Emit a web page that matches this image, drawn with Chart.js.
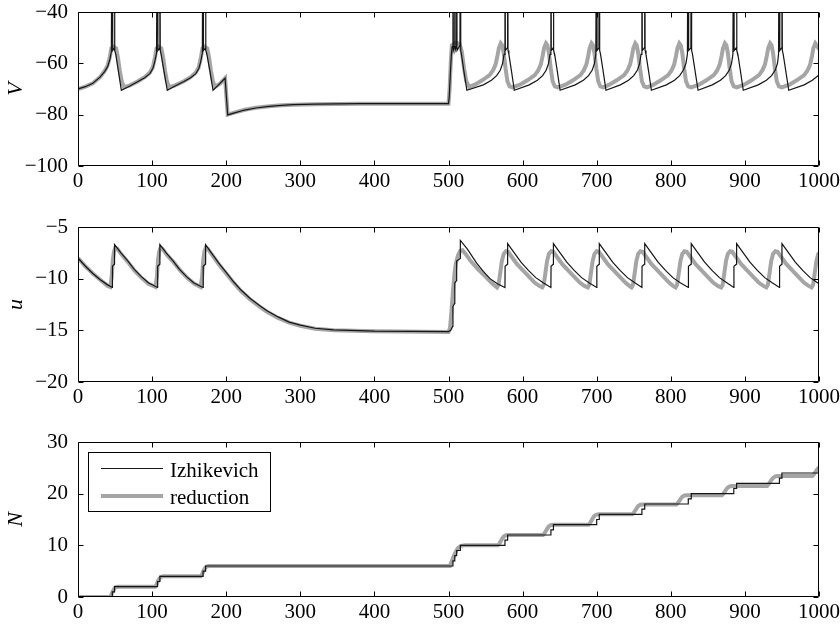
<!DOCTYPE html>
<html lang="en">
<head>
<meta charset="UTF-8">
<title>Izhikevich vs reduction</title>
<script src="https://cdn.jsdelivr.net/npm/chart.js"></script>
<style>
  body { margin: 0; background: #fff; width: 840px; height: 627px; overflow: hidden; position: relative; }
  .panel { position: absolute; left: 0; width: 840px; }
</style>
</head>
<body>
<div class="panel" style="top:0;height:200px"><canvas id="chartV"></canvas></div>
<div class="panel" style="top:210px;height:205px"><canvas id="chartU"></canvas></div>
<div class="panel" style="top:425px;height:202px"><canvas id="chartN"></canvas></div>
<script>
// values: [time, value]
const izhV = [
  [0,-70],[10,-69.1],[20,-67.8],[30,-65.3],[36,-63.2],[40,-61.3],[43,-58.5],[45,-55.5],[46.3,30],[46.8,-55],[48.8,-54.2],[49.3,30],[49.8,-55],[51,-56.5],[54.5,-63],[58.5,-70.5],
  [70,-68.8],[81,-67.1],[90,-65.6],[97,-64],[101,-62],[103.5,-59.5],[106,-56],[107.3,30],[107.8,-55],[110,-54.2],[110.5,30],[111,-55],[112.2,-56.5],[116,-63],[120.5,-70.5],
  [131,-68.8],[143,-67.1],[152,-65.6],[159,-64],[163,-62],[165.5,-59.5],[167.8,-56],[168.8,30],[169.3,-55],[171.7,-54.2],[172.2,30],[172.7,-55],[174,-56.5],[178,-63],[182.2,-70.5],
  [190,-68.3],[198.5,-65.8],[202,-80.1],[210,-79.4],[225,-78.2],[240,-77.4],[255,-76.9],[270,-76.5],[290,-76.1],[320,-75.9],[380,-75.7],[500,-75.7],
  [501,-73],[502.5,-64],[504,-56],[505,-53.5],[506,30],[506.5,-55],[508,-53.5],[508.5,30],[509,-55],[510.5,-53.5],[511,30],[511.5,-55],[515.5,-53],[516,30],[516.5,-55],[517.5,-56.5],[521,-63.5],[524.8,-70.5],
  [547,-68.4],[558,-66.6],[565,-64.8],[570,-62.6],[573,-60],[575,-56.5],[576.2,30],[576.7,-55],[579.3,-54],[579.8,30],[580.3,-55],[581.5,-56.5],[585,-63],[588.8,-70.5],
  [609,-68.4],[620,-66.6],[627,-64.8],[632,-62.6],[635,-60],[637,-56.5],[638.2,30],[638.7,-55],[641.1,-54],[641.6,30],[642.1,-55],[643.3,-56.5],[646.8,-63],[650.6,-70.5],
  [671,-68.4],[682,-66.6],[689,-64.8],[694,-62.6],[697,-60],[698.8,-56.5],[700,30],[700.5,-55],[703,-54],[703.5,30],[704,-55],[705.2,-56.5],[708.7,-63],[712.5,-70.5],
  [732,-68.4],[743,-66.6],[750,-64.8],[755,-62.6],[758,-60],[759.8,-56.5],[761,30],[761.5,-55],[764.3,-54],[764.8,30],[765.3,-55],[766.5,-56.5],[770,-63],[773.8,-70.5],
  [794,-68.4],[805,-66.6],[812,-64.8],[817,-62.6],[820.5,-60],[822.4,-56.5],[823.6,30],[824.1,-55],[827.1,-54],[827.6,30],[828.1,-55],[829.3,-56.5],[832.8,-63],[836.8,-70.5],
  [856,-68.4],[867,-66.6],[874,-64.8],[879,-62.6],[882,-60],[883.8,-56.5],[885,30],[885.5,-55],[888.3,-54],[888.8,30],[889.3,-55],[890.5,-56.5],[894,-63],[897.8,-70.5],
  [918,-68.4],[929,-66.6],[936,-64.8],[941,-62.6],[944,-60],[945.4,-56.5],[946.6,30],[947.1,-55],[949.5,-54],[950,30],[950.5,-55],[951.7,-56.5],[955.2,-63],[959.2,-70.5],
  [980,-68.4],[991,-66.6],[1000,-64.5]
];
const redV = [
  [0,-70],[10,-69.1],[20,-67.8],[30,-65.3],[36,-63],[40,-60.8],[43,-57.5],[45,-54.2],[48,-53.5],[51.5,-54.2],[54,-58],[56.5,-63],[59,-67],[62,-69.3],
  [70,-68.6],[81,-67],[90,-65.4],[97,-63.6],[101,-61.5],[104,-57.5],[106,-54.2],[109,-53.5],[112.5,-54.2],[115,-58],[117.5,-63],[120,-67],[123,-69.3],
  [131,-68.6],[143,-67],[152,-65.4],[159,-63.6],[163,-61.5],[166,-57.5],[168,-54.2],[171,-53.5],[174.5,-54.2],[177,-58],[179.5,-63],[182,-67],[185,-69.2],
  [192,-67.8],[198.5,-65.8],[202,-80],[210,-79.3],[225,-78.1],[240,-77.3],[255,-76.8],[270,-76.4],[290,-76.1],[320,-75.9],[380,-75.7],[500,-75.7],
  [501.5,-70],[503,-60],[504.5,-53],[510,-52],[515,-52.5],[518,-55.5],[521,-62],[524,-67],[528,-69.2],
  [535.5,-68.3],[545.5,-66.6],[555.5,-64.6],[560,-62.8],[563.5,-60.5],[566,-57.2],[568,-54],[570.5,-52.2],[572.5,-53],[574.5,-56],[577,-62],[579.5,-67],[582.5,-69],[586.5,-69.4],
  [596.5,-68.3],[606.5,-66.6],[616.5,-64.6],[621,-62.8],[624.5,-60.5],[627,-57.2],[629,-54],[631.5,-52.2],[633.5,-53],[635.5,-56],[638,-62],[640.5,-67],[643.5,-69],[647.5,-69.4],
  [658,-68.3],[668,-66.6],[678,-64.6],[682.5,-62.8],[686,-60.5],[688.5,-57.2],[690.5,-54],[693,-52.2],[695,-53],[697,-56],[699.5,-62],[702,-67],[705,-69],[709,-69.4],
  [717,-68.3],[727,-66.6],[737,-64.6],[741.5,-62.8],[745,-60.5],[747.5,-57.2],[749.5,-54],[752,-52.2],[754,-53],[756,-56],[758.5,-62],[761,-67],[764,-69],[768,-69.4],
  [776.5,-68.3],[786.5,-66.6],[796.5,-64.6],[801,-62.8],[804.5,-60.5],[807,-57.2],[809,-54],[811.5,-52.2],[813.5,-53],[815.5,-56],[818,-62],[820.5,-67],[823.5,-69],[827.5,-69.4],
  [838,-68.3],[848,-66.6],[858,-64.6],[862.5,-62.8],[866,-60.5],[868.5,-57.2],[870.5,-54],[873,-52.2],[875,-53],[877,-56],[879.5,-62],[882,-67],[885,-69],[889,-69.4],
  [899,-68.3],[909,-66.6],[919,-64.6],[923.5,-62.8],[927,-60.5],[929.5,-57.2],[931.5,-54],[934,-52.2],[936,-53],[938,-56],[940.5,-62],[943,-67],[946,-69],[950,-69.4],
  [960,-68.3],[970,-66.6],[980,-64.6],[984.5,-62.8],[988,-60.5],[990.5,-57.2],[992.5,-54],[995,-52.2],[997,-53],[1000,-54.5]
];
const izhU = [
  [0,-8.0],[10,-8.8],[20,-9.5],[30,-10.1],[40,-10.6],[46.3,-10.85],[46.5,-8.8],[49.1,-8.6],[49.3,-6.7],[58,-7.5],[67.5,-8.3],[76,-9.1],[85.5,-9.8],[95,-10.4],
  [107.3,-10.85],[107.5,-8.8],[110.3,-8.6],[110.5,-6.7],[119,-7.5],[128.5,-8.3],[137,-9.1],[146.5,-9.8],[156,-10.4],
  [168.8,-10.85],[169,-8.8],[172,-8.6],[172.2,-6.7],[180,-7.5],[190,-8.5],[200,-9.4],[210,-10.3],[220,-11.1],[232,-11.9],[245,-12.6],[255,-13.1],[270,-13.7],[285,-14.2],[300,-14.5],[320,-14.8],[345,-14.95],[400,-15.08],[500,-15.12],
  [503,-15.0],[505.8,-14.6],[506,-12.7],[508.3,-12.4],[508.5,-10.4],[510.8,-10.2],[511,-8.3],[515.8,-8.05],[516,-6.3],[525,-7.1],[538,-8.5],[547,-9.3],[556,-10.0],[566,-10.5],
  [576.2,-10.85],[576.4,-8.8],[579.6,-8.6],[579.8,-6.6],[587.8,-7.4],[597.8,-8.4],[607.8,-9.2],[617.8,-9.9],[627.8,-10.4],
  [638.2,-10.85],[638.4,-8.8],[641.4,-8.6],[641.6,-6.6],[649.6,-7.4],[659.6,-8.4],[669.6,-9.2],[679.6,-9.9],[689.6,-10.4],
  [700,-10.85],[700.2,-8.8],[703.3,-8.6],[703.5,-6.6],[711.5,-7.4],[721.5,-8.4],[731.5,-9.2],[741.5,-9.9],[751.5,-10.4],
  [761,-10.85],[761.2,-8.8],[764.6,-8.6],[764.8,-6.6],[772.8,-7.4],[782.8,-8.4],[792.8,-9.2],[802.8,-9.9],[812.8,-10.4],
  [823.6,-10.85],[823.8,-8.8],[827.4,-8.6],[827.6,-6.6],[835.6,-7.4],[845.6,-8.4],[855.6,-9.2],[865.6,-9.9],[875.6,-10.4],
  [885,-10.85],[885.2,-8.8],[888.6,-8.6],[888.8,-6.6],[896.8,-7.4],[906.8,-8.4],[916.8,-9.2],[926.8,-9.9],[936.8,-10.4],
  [946.6,-10.85],[946.8,-8.8],[949.8,-8.6],[950,-6.6],[958,-7.4],[968,-8.4],[978,-9.2],[988,-9.9],[998,-10.4],[1000,-10.5]
];
const redU = [
  [0,-8.0],[10,-8.8],[20,-9.5],[30,-10.1],[40,-10.7],[43.5,-10.8],[45.5,-9.8],[47,-8.2],[48.5,-7.4],[50.5,-7.0],[53,-7.1],[58,-7.6],[67.5,-8.4],[76,-9.2],[85.5,-9.9],[95,-10.5],
  [104.5,-10.8],[106.5,-9.8],[108,-8.2],[109.5,-7.4],[111.5,-7.0],[114,-7.1],[120,-7.7],[129,-8.4],[138,-9.2],[147,-9.9],[157,-10.5],
  [165.5,-10.8],[167.5,-9.8],[169,-8.2],[170.5,-7.4],[172.5,-7.0],[175,-7.1],[180,-7.6],[190,-8.6],[200,-9.5],[210,-10.4],[220,-11.2],[232,-12.0],[245,-12.7],[255,-13.2],[270,-13.8],[285,-14.25],[300,-14.55],[320,-14.85],[345,-15.0],[400,-15.1],[500,-15.15],
  [502,-14.8],[504,-13.2],[506,-11.2],[508,-9.6],[510,-8.5],[513,-7.7],[516,-7.3],[519,-7.25],[523,-7.6],[530,-8.3],[540,-9.1],[550,-9.8],[558,-10.4],[565.5,-10.85],
  [567.5,-10.6],[569.5,-9.6],[572,-8.3],[574.5,-7.6],[577.5,-7.35],[580.5,-7.4],[585.5,-7.9],[592.5,-8.6],[600.5,-9.2],[608.5,-9.8],[616.5,-10.4],[622.5,-10.7],[626.5,-10.85],
  [628.5,-10.6],[630.5,-9.6],[633,-8.3],[635.5,-7.6],[638.5,-7.35],[641.5,-7.4],[646.5,-7.9],[653.5,-8.6],[661.5,-9.2],[669.5,-9.8],[677.5,-10.4],[683.5,-10.7],[688,-10.85],
  [690,-10.6],[692,-9.6],[694.5,-8.3],[697,-7.6],[700,-7.35],[703,-7.4],[708,-7.9],[715,-8.6],[723,-9.2],[731,-9.8],[739,-10.4],[744,-10.7],[747,-10.85],
  [749,-10.6],[751,-9.6],[753.5,-8.3],[756,-7.6],[759,-7.35],[762,-7.4],[767,-7.9],[774,-8.6],[782,-9.2],[790,-9.8],[798,-10.4],[803,-10.7],[806.5,-10.85],
  [808.5,-10.6],[810.5,-9.6],[813,-8.3],[815.5,-7.6],[818.5,-7.35],[821.5,-7.4],[826.5,-7.9],[833.5,-8.6],[841.5,-9.2],[849.5,-9.8],[857.5,-10.4],[863.5,-10.7],[868,-10.85],
  [870,-10.6],[872,-9.6],[874.5,-8.3],[877,-7.6],[880,-7.35],[883,-7.4],[888,-7.9],[895,-8.6],[903,-9.2],[911,-9.8],[919,-10.4],[925,-10.7],[929,-10.85],
  [931,-10.6],[933,-9.6],[935.5,-8.3],[938,-7.6],[941,-7.35],[944,-7.4],[949,-7.9],[956,-8.6],[964,-9.2],[972,-9.8],[980,-10.4],[986,-10.7],[990,-10.85],
  [992,-10.6],[994,-9.6],[996.5,-8.3],[999,-7.6],[1000,-7.5]
];
// spike counts (black is a step function)
const izhN = [
  [0,0],[46.3,1],[49.3,2],[107.3,3],[110.5,4],[168.8,5],[172.2,6],[506,7],[508.5,8],[511,9],[516,10],
  [576.2,11],[579.8,12],[638.2,13],[641.6,14],[700,15],[703.5,16],[761,17],[764.8,18],[823.6,19],[827.6,20],
  [885,21],[888.8,22],[946.6,23],[950,24],[1000,24]
];
const redN = [
  [0,0],[43,0],[45,0.4],[47,1.1],[49,1.6],[51,1.9],[54,2.0],[104,2.0],[106,2.4],[108,3.1],[110,3.6],[112,3.9],[115,4.0],
  [165.5,4.0],[167.5,4.4],[169.5,5.1],[171.5,5.6],[173.5,5.9],[177,6.0],[502,6.0],[504,6.8],[507,7.9],[510,8.8],[513,9.5],[517,9.9],[522,10.0],
  [566.5,10],[568.5,10.3],[570.5,10.8],[572.5,11.3],[574.5,11.7],[577.5,11.95],[580.5,12],
  [627.5,12],[629.5,12.3],[631.5,12.8],[633.5,13.3],[635.5,13.7],[638.5,13.95],[641.5,14],
  [689,14],[691,14.3],[693,14.8],[695,15.3],[697,15.7],[700,15.95],[703,16],
  [748,16],[750,16.3],[752,16.75],[754,17.2],[756,17.6],[759,17.85],[762,17.9],
  [807.5,17.9],[809.5,18.2],[811.5,18.6],[813.5,19.05],[815.5,19.4],[818.5,19.65],[821.5,19.7],
  [869,19.7],[871,20.0],[873,20.4],[875,20.85],[877,21.2],[880,21.45],[883,21.5],
  [930,21.5],[932,21.8],[934,22.25],[936,22.7],[938,23.05],[941,23.35],[944,23.4],
  [991,23.4],[993,23.7],[995,24.15],[997,24.6],[999,24.95],[1000,25.1]
];
const xTicks = [0, 100, 200, 300, 400, 500, 600, 700, 800, 900, 1000];
const seriesNames = ['Izhikevich', 'reduction'];

const SERIF = '"Liberation Serif", "Times New Roman", serif';
const BLACK = '#151515';
const GRAY = '#a5a5a5';

function toXY(arr) { return arr.map(p => ({ x: p[0], y: p[1] })); }
function minusLabel(v) { return v < 0 ? '\u2212' + Math.abs(v) : String(v); }

// box + inward ticks like the original figure
const framePlugin = {
  id: 'frame',
  afterDatasetsDraw(chart) {
    const ctx = chart.ctx, a = chart.chartArea;
    const xs = chart.scales.x, ys = chart.scales.y;
    const L = Math.round(a.left) + 0.5, R = Math.round(a.right) - 0.5;
    const T = Math.round(a.top) + 0.5, B = Math.round(a.bottom) - 0.5;
    ctx.save();
    ctx.strokeStyle = '#000';
    ctx.lineWidth = 1;
    ctx.beginPath();
    ctx.rect(L, T, R - L, B - T);
    xs.ticks.forEach(t => {
      const px = Math.round(xs.getPixelForValue(t.value)) + 0.5;
      ctx.moveTo(px, B); ctx.lineTo(px, B - 5);
      ctx.moveTo(px, T); ctx.lineTo(px, T + 5);
    });
    ys.ticks.forEach(t => {
      const py = Math.round(ys.getPixelForValue(t.value)) + 0.5;
      ctx.moveTo(L, py); ctx.lineTo(L + 5, py);
      ctx.moveTo(R, py); ctx.lineTo(R - 5, py);
    });
    ctx.stroke();
    ctx.restore();
  }
};

const legendPlugin = {
  id: 'boxLegend',
  afterDraw(chart) {
    if (!chart.options.plugins.boxLegend.show) return;
    const ctx = chart.ctx;
    ctx.save();
    ctx.fillStyle = '#fff';
    ctx.fillRect(88.5, 27.5, 182, 59);
    ctx.strokeStyle = '#000';
    ctx.lineWidth = 1;
    ctx.strokeRect(88.5, 27.5, 182, 59);
    ctx.lineWidth = 1.2;
    ctx.strokeStyle = BLACK;
    ctx.beginPath(); ctx.moveTo(101, 43.5); ctx.lineTo(163, 43.5); ctx.stroke();
    ctx.lineWidth = 4;
    ctx.strokeStyle = GRAY;
    ctx.beginPath(); ctx.moveTo(101, 71); ctx.lineTo(163, 71); ctx.stroke();
    ctx.fillStyle = '#000';
    ctx.font = '21px ' + SERIF;
    ctx.textBaseline = 'alphabetic';
    ctx.fillText(seriesNames[0], 170, 52);
    ctx.fillText(seriesNames[1], 170, 78.5);
    ctx.restore();
  }
};

function makeChart(id, izh, red, yMin, yMax, yStep, yTitle, padTop, xHeight, stepped, legend) {
  return new Chart(document.getElementById(id), {
    type: 'line',
    data: {
      datasets: [
        { label: seriesNames[0], data: toXY(izh), borderColor: BLACK, borderWidth: 1.2, pointRadius: 0, fill: false, clip: 0, order: 0, stepped: stepped },
        { label: seriesNames[1], data: toXY(red), borderColor: GRAY, borderWidth: 4, pointRadius: 0, fill: false, clip: 0, order: 1 }
      ]
    },
    options: {
      responsive: true,
      maintainAspectRatio: false,
      animation: false,
      events: [],
      layout: { padding: { top: padTop, right: 21, bottom: 0, left: 0 } },
      plugins: { legend: { display: false }, tooltip: { enabled: false }, boxLegend: { show: legend } },
      scales: {
        x: {
          type: 'linear', min: 0, max: 1000,
          afterBuildTicks: s => { s.ticks = xTicks.map(v => ({ value: v })); },
          afterFit: s => { s.height = xHeight; s.paddingLeft = 0; s.paddingRight = 0; },
          grid: { display: false, drawTicks: false },
          border: { display: false },
          ticks: { autoSkip: false, maxRotation: 0, padding: 4, color: '#000',
                   font: { family: SERIF, size: 21, lineHeight: 1.1 }, callback: v => String(v) }
        },
        y: {
          min: yMin, max: yMax,
          afterFit: s => { s.width = 78; s.paddingTop = 0; s.paddingBottom = 0; },
          grid: { display: false, drawTicks: false },
          border: { display: false },
          ticks: { stepSize: yStep, padding: 10, color: '#000',
                   font: { family: SERIF, size: 21, lineHeight: 1.1 }, callback: minusLabel },
          title: { display: true, text: yTitle, color: '#000', padding: { top: 4, bottom: 0 },
                   font: { family: SERIF, size: 22, style: 'italic', lineHeight: 1.1 } }
        }
      }
    },
    plugins: [framePlugin, legendPlugin]
  });
}

makeChart('chartV', izhV, redV, -100, -40, 20, 'V', 12, 34, false, false);
makeChart('chartU', izhU, redU, -20, -5, 5, 'u', 17, 33, false, false);
makeChart('chartN', izhN, redN, 0, 30, 10, 'N', 17, 30, true, true);
</script>
</body>
</html>
